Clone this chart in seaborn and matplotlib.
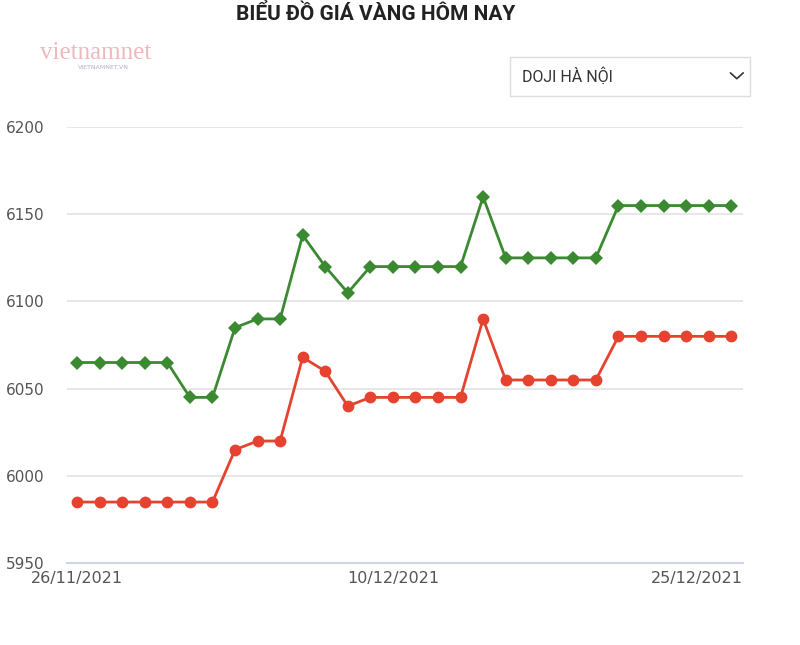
import matplotlib.pyplot as plt  # crear graficos
import matplotlib.dates as mdates
import matplotlib.transforms as mtransforms
from matplotlib.patches import Rectangle
from matplotlib.lines import Line2D
import seaborn as sns  # crear graficos
import pandas as pd  # manipulacion de los dataframes

# Datos (nghìn đồng/chỉ)
ngay = pd.date_range("2021-11-26", "2021-12-25", freq="D")
gia_ban = [6065, 6065, 6065, 6065, 6065, 6045, 6045, 6085, 6090, 6090,
           6138, 6120, 6105, 6120, 6120, 6120, 6120, 6120, 6160, 6125,
           6125, 6125, 6125, 6125, 6155, 6155, 6155, 6155, 6155, 6155]
gia_mua = [5985, 5985, 5985, 5985, 5985, 5985, 5985, 6015, 6020, 6020,
           6068, 6060, 6040, 6045, 6045, 6045, 6045, 6045, 6090, 6055,
           6055, 6055, 6055, 6055, 6080, 6080, 6080, 6080, 6080, 6080]
y_ticks = [5950, 6000, 6050, 6100, 6150, 6200]
x_ticks = ["2021-11-26", "2021-12-10", "2021-12-25"]

df = pd.DataFrame({"ngay": ngay, "ban": gia_ban, "mua": gia_mua})

sns.set_style("white")
plt.rcParams["font.family"] = ["DejaVu Sans"]

fig = plt.figure(figsize=(8, 6.45), dpi=100)
ax = fig.add_axes([0.084, 0.127, 0.845, 0.676])

verde = "#3b8a31"
rojo = "#e5432f"
sns.lineplot(data=df, x="ngay", y="ban", color=verde, linewidth=2.0, marker="D",
             markersize=7, markeredgewidth=0, ax=ax, clip_on=False, zorder=3)
sns.lineplot(data=df, x="ngay", y="mua", color=rojo, linewidth=2.0, marker="o",
             markersize=8.5, markeredgewidth=0, ax=ax, clip_on=False, zorder=3)

ax.set_ylim(5950, 6200)
ax.set_xlim(ngay[0] - pd.Timedelta(hours=10.6), ngay[-1] + pd.Timedelta(hours=12.8))
ax.set_yticks(y_ticks)
ax.set_xticks(pd.to_datetime(x_ticks))
ax.xaxis.set_major_formatter(mdates.DateFormatter("%d/%m/%Y"))
ax.grid(axis="y", color="#e3e3e3", linewidth=1.2)
ax.grid(axis="x", visible=False)
for lado in ["top", "right", "left"]:
    ax.spines[lado].set_visible(False)
ax.spines["bottom"].set_color("#ccd6eb")
ax.spines["bottom"].set_linewidth(1.5)
ax.tick_params(axis="y", length=0, pad=16, labelsize=11, labelcolor="#555555")
ax.tick_params(axis="x", length=0, pad=6, labelsize=11.5, labelcolor="#555555")
ax.set_xlabel("")
ax.set_ylabel("")
ult = ax.get_xticklabels()[-1]
ult.set_horizontalalignment("right")
ult.set_transform(ult.get_transform() + mtransforms.ScaledTranslation(0.12, 0, fig.dpi_scale_trans))

# Titulo
fig.text(0.47, 0.978, "BIỂU ĐỒ GIÁ VÀNG HÔM NAY", ha="center", va="center",
         fontsize=15, fontweight="bold", color="#222222",
         family=["Liberation Sans Narrow", "Roboto", "DejaVu Sans"])

# Marca de agua
fig.text(0.05, 0.918, "vietnamnet", fontsize=18, color="#e9a0a8", alpha=0.75,
         family=["Liberation Serif"], va="center")
fig.text(0.098, 0.895, "VIETNAMNET.VN", fontsize=4.5, color="#b0b0c0", va="center")

# Selector
fig.patches.append(Rectangle((0.638, 0.851), 0.300, 0.061, transform=fig.transFigure,
                             facecolor="white", edgecolor="#dddddd", linewidth=1))
fig.text(0.653, 0.882, "DOJI HÀ NỘI", fontsize=11.5, color="#333333", va="center",
         family=["Roboto", "DejaVu Sans"])
fig.lines.append(Line2D([0.913, 0.921, 0.929], [0.887, 0.878, 0.887],
                        transform=fig.transFigure, color="#333333", linewidth=1.2))

fig.savefig("out.png", dpi=100, facecolor="white")
